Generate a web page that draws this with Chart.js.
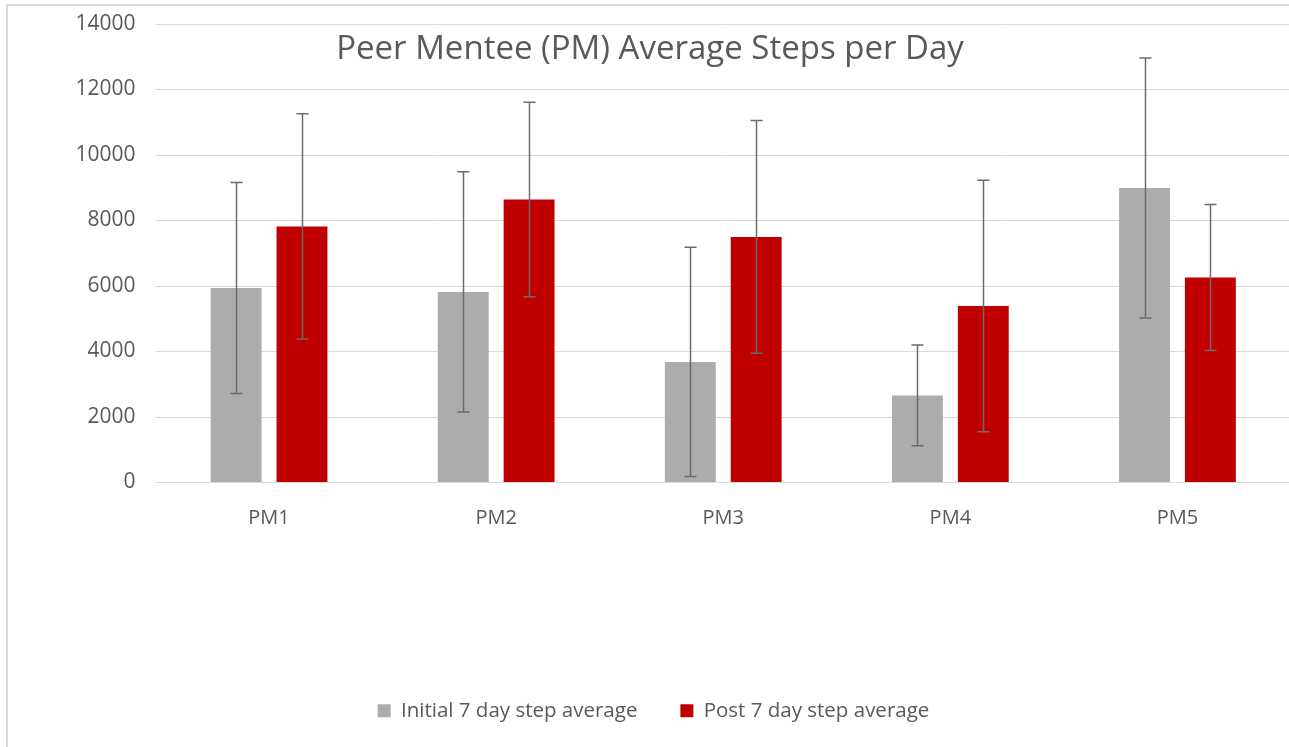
<!DOCTYPE html>
<html>
<head>
<meta charset="utf-8">
<script src="https://cdn.jsdelivr.net/npm/chart.js@4.4.0/dist/chart.umd.min.js"></script>
<style>
    html, body { margin: 0; padding: 0; background: #fff; overflow: hidden; }
    #wrap { position: relative; width: 1291px; height: 747px; }
    #frame { position: absolute; left: 6px; top: 4px; right: 0; bottom: 0;
             border-left: 2px solid #dadada; border-top: 2px solid #dadada; pointer-events: none; }
</style>
</head>
<body>
<div id="wrap">
    <canvas id="stepsChart" width="1291" height="747"></canvas>
    <div id="frame"></div>
</div>
<script>
const categories = ['PM1', 'PM2', 'PM3', 'PM4', 'PM5'];
const initialAvg = [5940, 5820, 3680, 2660, 8990];
const initialErr = [3220, 3670, 3500, 1540, 3970];
const postAvg = [7820, 8640, 7500, 5390, 6260];
const postErr = [3440, 2970, 3550, 3840, 2230];
const seriesNames = ['Initial 7 day step average', 'Post 7 day step average'];
const titleText = 'Peer Mentee (PM) Average Steps per Day';

const textColor = '#595959';
const fontFamily = '"Open Sans", "Liberation Sans", sans-serif';

// draws the +/- error bars on top of each bar
const errorBars = {
    id: 'errorBars',
    afterDatasetsDraw: function (chart) {
        const ctx = chart.ctx;
        const yScale = chart.scales.y;
        ctx.save();
        ctx.strokeStyle = '#6b6b6b';
        ctx.lineWidth = 1.5;
        chart.data.datasets.forEach(function (ds, di) {
            const meta = chart.getDatasetMeta(di);
            meta.data.forEach(function (bar, i) {
                const v = ds.data[i];
                const e = ds.errors[i];
                const top = yScale.getPixelForValue(v + e);
                const bottom = yScale.getPixelForValue(v - e);
                const x = Math.round(bar.x) + 0.5;
                ctx.beginPath();
                ctx.moveTo(x, top);
                ctx.lineTo(x, bottom);
                ctx.moveTo(x - 6, top);
                ctx.lineTo(x + 6, top);
                ctx.moveTo(x - 6, bottom);
                ctx.lineTo(x + 6, bottom);
                ctx.stroke();
            });
        });
        ctx.restore();
    }
};

// title sits inside the plot, like the Excel original
const overlayTitle = {
    id: 'overlayTitle',
    afterDraw: function (chart) {
        const ctx = chart.ctx;
        ctx.save();
        ctx.fillStyle = textColor;
        ctx.font = '33px ' + fontFamily;
        ctx.textAlign = 'center';
        ctx.textBaseline = 'alphabetic';
        ctx.fillText(titleText, 650, 59);
        ctx.restore();
    }
};

const ctx = document.getElementById('stepsChart').getContext('2d');
const config = {
    type: 'bar',
    data: {
        labels: categories,
        datasets: [
            {
                label: seriesNames[0],
                data: initialAvg,
                errors: initialErr,
                backgroundColor: '#aeabab',
                categoryPercentage: 0.58,
                barPercentage: 0.773,
            },
            {
                label: seriesNames[1],
                data: postAvg,
                errors: postErr,
                backgroundColor: '#c00000',
                categoryPercentage: 0.58,
                barPercentage: 0.773,
            },
        ],
    },
    options: {
        responsive: false,
        animation: false,
        layout: {
            padding: { top: 24, bottom: 16, left: 16, right: 0 },
        },
        scales: {
            x: {
                grid: { display: false, drawTicks: false },
                border: { display: false },
                ticks: {
                    color: textColor,
                    font: { family: fontFamily, size: 20 },
                    padding: 24,
                },
                afterFit: function (scale) {
                    scale.height = 175;
                    scale.paddingLeft = 0;
                    scale.paddingRight = 0;
                },
            },
            y: {
                min: 0,
                max: 14000,
                grid: { color: '#d9d9d9', lineWidth: 1, drawTicks: false },
                border: { display: false },
                ticks: {
                    stepSize: 2000,
                    color: textColor,
                    font: { family: fontFamily, size: 21 },
                    padding: 20,
                    callback: function (v) { return String(v); },
                },
                afterFit: function (scale) {
                    scale.width = 139.5;
                    scale.paddingTop = 0;
                    scale.paddingBottom = 0;
                },
            },
        },
        plugins: {
            legend: {
                position: 'bottom',
                labels: {
                    color: textColor,
                    font: { family: fontFamily, size: 20.5 },
                    boxWidth: 13,
                    boxHeight: 13,
                    padding: 43,
                },
            },
            title: { display: false },
            tooltip: { enabled: false },
        },
    },
    plugins: [errorBars, overlayTitle],
};
const myChart = new Chart(ctx, config);
</script>
</body>
</html>
